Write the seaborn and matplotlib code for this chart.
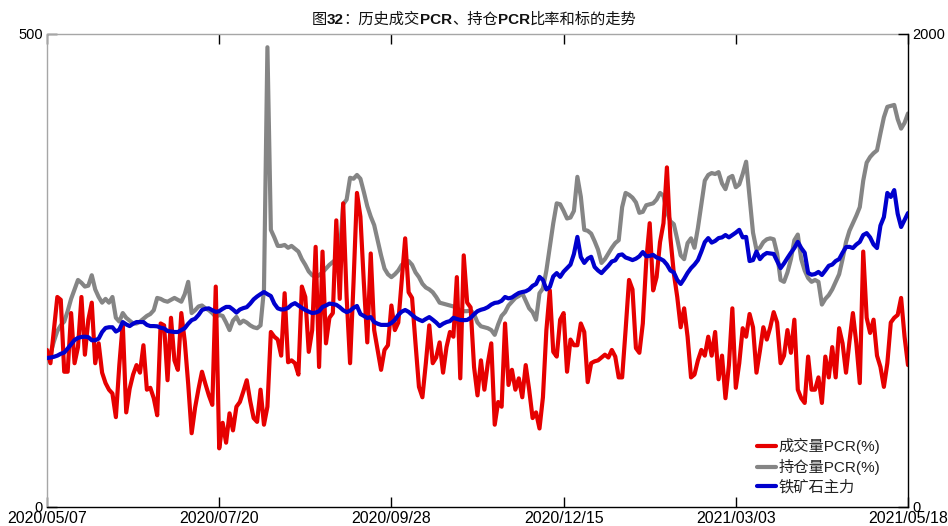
import numpy as np
import pandas as pd
import matplotlib
matplotlib.use("Agg")
import matplotlib.pyplot as plt
import seaborn as sns

# ---------------- data ----------------
tick_labels = ["2020/05/07", "2020/07/20", "2020/09/28", "2020/12/15", "2021/03/03", "2021/05/18"]
tick_pos = [0, 50, 100, 150, 200, 250]

series_names = ["成交量PCR(%)", "持仓量PCR(%)", "铁矿石主力"]

volume_pcr = [
    166, 152, 187, 222, 219, 143, 143, 205, 152, 169,
    222, 161, 198, 216, 152, 173, 142, 131, 124, 120,
    95, 150, 194, 100, 125, 140, 150, 142, 171, 124,
    126, 115, 97, 194, 192, 134, 200, 155, 145, 205,
    175, 130, 78, 105, 125, 143, 130, 118, 108, 233,
    62, 89, 68, 99, 81, 106, 111, 122, 134, 112,
    94, 90, 124, 87, 106, 185, 180, 177, 160, 226,
    153, 155, 152, 140, 233, 222, 164, 187, 275, 148,
    270, 173, 200, 205, 303, 220, 321, 222, 152, 237,
    332, 307, 237, 174, 268, 187, 166, 145, 166, 171,
    213, 187, 195, 240, 284, 227, 221, 173, 127, 116,
    152, 192, 152, 158, 174, 142, 169, 185, 180, 243,
    136, 266, 216, 211, 148, 118, 155, 124, 152, 173,
    87, 111, 106, 194, 129, 145, 124, 136, 116, 150,
    124, 94, 100, 83, 116, 187, 229, 164, 159, 198,
    205, 143, 177, 171, 171, 194, 185, 132, 152, 154,
    155, 158, 161, 158, 166, 159, 137, 137, 187, 240,
    230, 168, 163, 194, 260, 300, 229, 243, 280, 300,
    359, 285, 247, 222, 190, 210, 180, 137, 140, 155,
    166, 160, 180, 160, 185, 135, 160, 115, 150, 210,
    126, 152, 189, 180, 204, 190, 142, 165, 190, 177,
    190, 206, 195, 152, 160, 187, 163, 198, 124, 115,
    110, 159, 124, 124, 137, 110, 159, 137, 169, 137,
    189, 173, 142, 175, 205, 173, 131, 270, 200, 184,
    198, 160, 148, 127, 152, 195, 200, 203, 221, 180,
    150,
]

oi_pcr = [
    154, 162, 175, 186, 192, 196, 207, 220, 230, 240,
    237, 233, 234, 245, 230, 222, 216, 220, 216, 222,
    200, 196, 205, 200, 197, 194, 194, 196, 199, 202,
    204, 208, 221, 220, 218, 217, 219, 221, 219, 217,
    225, 238, 205, 208, 212, 213, 210, 208, 205, 201,
    203, 202, 195, 187, 197, 201, 194, 197, 195, 192,
    190, 189, 192, 230, 486, 293, 285, 276, 276, 277,
    274, 276, 273, 270, 262, 256, 249, 245, 243, 245,
    248, 252, 256, 259, 262, 268, 320, 325, 348, 347,
    351, 347, 333, 318, 307, 298, 282, 266, 252, 246,
    243, 246, 250, 256, 258, 260, 256, 248, 243, 236,
    232, 230, 227, 222, 216, 215, 214, 213, 212, 210,
    208, 207, 207, 208, 204, 195, 191, 190, 189, 187,
    182, 193, 202, 206, 213, 217, 221, 223, 226, 218,
    210, 206, 198, 226, 231, 250, 275, 300, 321, 320,
    313, 305, 306, 313, 349, 328, 293, 292, 289, 281,
    272, 258, 262, 268, 274, 279, 282, 317, 332, 330,
    327, 322, 311, 312, 319, 320, 321, 325, 332, 329,
    312, 302, 299, 283, 266, 262, 279, 284, 274, 295,
    320, 345, 351, 353, 352, 354, 342, 336, 348, 350,
    338, 341, 352, 365, 328, 290, 272, 274, 280, 283,
    284, 283, 268, 240, 238, 248, 262, 282, 288, 262,
    250, 242, 238, 240, 238, 214, 220, 224, 230, 238,
    246, 262, 280, 292, 300, 308, 317, 345, 364, 370,
    374, 377, 395, 412, 423, 424, 425, 410, 400, 406,
    416,
]

iron_ore = [
    630, 632, 635, 640, 648, 653, 670, 688, 706, 715,
    719, 720, 718, 705, 705, 712, 740, 757, 760, 760,
    742, 750, 782, 772, 765, 775, 782, 782, 782, 770,
    765, 765, 764, 758, 755, 744, 742, 740, 740, 748,
    756, 775, 790, 796, 812, 833, 838, 840, 832, 825,
    828, 838, 846, 846, 835, 822, 835, 841, 845, 860,
    878, 890, 900, 909, 900, 892, 860, 840, 835, 836,
    842, 855, 862, 852, 842, 833, 826, 820, 822, 828,
    846, 852, 860, 858, 855, 845, 832, 824, 830, 842,
    850, 816, 808, 799, 803, 782, 775, 770, 770, 770,
    778, 791, 812, 826, 833, 825, 812, 800, 792, 786,
    795, 803, 792, 780, 765, 775, 782, 786, 800, 795,
    791, 790, 791, 800, 815, 828, 834, 838, 845, 856,
    863, 865, 872, 888, 882, 886, 896, 905, 909, 912,
    920, 935, 943, 973, 960, 920, 930, 975, 989, 973,
    995, 1010, 1025, 1070, 1142, 1057, 1032, 1050, 1058, 1015,
    1000, 989, 1005, 1020, 1038, 1043, 1065, 1068, 1055, 1050,
    1044, 1050, 1060, 1078, 1060, 1062, 1066, 1055, 1050, 1042,
    1025, 1000, 992, 960, 943, 965, 990, 1010, 1025, 1044,
    1080, 1120, 1137, 1118, 1125, 1137, 1140, 1150, 1140, 1150,
    1160, 1172, 1140, 1142, 1040, 1044, 1080, 1048, 1065, 1074,
    1072, 1070, 1040, 1010, 1030, 1053, 1075, 1095, 1121, 1095,
    1075, 990, 982, 985, 994, 981, 1000, 1020, 1025, 1040,
    1048, 1075, 1099, 1100, 1095, 1110, 1121, 1150, 1158, 1140,
    1110, 1095, 1190, 1226, 1328, 1311, 1340, 1240, 1184, 1213,
    1243,
]

left_ticks = [0, 500]
right_ticks = [0, 2000]

# ---------------- style ----------------
sns.set_style("white")
FAM = ["Liberation Sans", "Noto Sans CJK SC", "DejaVu Sans"]
plt.rcParams["font.family"] = FAM
plt.rcParams["axes.unicode_minus"] = False

RED = "#E60000"
GRAY = "#858585"
BLUE = "#0000CD"

df = pd.DataFrame({
    "idx": np.arange(len(volume_pcr)),
    "vol": volume_pcr,
    "oi": oi_pcr,
    "ore": iron_ore,
})

fig = plt.figure(figsize=(9.48, 5.26), dpi=100)
W, H = 948, 526
ax = fig.add_axes([47 / W, 1 - 507 / H, 861 / W, 473 / H])
ax2 = ax.twinx()

sns.lineplot(data=df, x="idx", y="vol", ax=ax, color=RED, linewidth=3,
             label=series_names[0], legend=False, zorder=3)
sns.lineplot(data=df, x="idx", y="oi", ax=ax, color=GRAY, linewidth=3,
             label=series_names[1], legend=False, zorder=2)
sns.lineplot(data=df, x="idx", y="ore", ax=ax2, color=BLUE, linewidth=3,
             label=series_names[2], legend=False, zorder=3)

ax.set_xlim(0, 250)
ax.set_ylim(0, 500)
ax2.set_ylim(0, 2000)
ax.set_xlabel("")
ax.set_ylabel("")
ax2.set_ylabel("")

ax.set_xticks(tick_pos)
ax.set_xticklabels(tick_labels)
ax.set_yticks(left_ticks)
ax.set_yticklabels([str(v) for v in left_ticks])
ax2.set_yticks(right_ticks)
ax2.set_yticklabels([str(v) for v in right_ticks])

ax.tick_params(axis="x", direction="in", length=7, width=1, top=True, bottom=True,
               labelsize=11.5, pad=3, colors="black")
ax.tick_params(axis="y", direction="in", length=7, width=1, labelsize=10.5, pad=3,
               colors="black")
ax2.tick_params(axis="y", direction="in", length=7, width=1, labelsize=10.5, pad=3,
                colors="black")

for s in ["left", "top"]:
    ax.spines[s].set_color("#a6a6a6")
    ax.spines[s].set_linewidth(1)
ax.spines["bottom"].set_color("black")
ax.spines["bottom"].set_linewidth(1)
ax.spines["right"].set_visible(False)
for s in ["left", "top", "bottom"]:
    ax2.spines[s].set_visible(False)
ax2.spines["right"].set_color("black")
ax2.spines["right"].set_linewidth(1)

# legend
handles = ax.get_lines()[:2] + ax2.get_lines()[:1]
leg = ax2.legend(handles, series_names, loc="upper left",
                 bbox_to_anchor=(757 / W, 1 - 438 / H), bbox_transform=fig.transFigure,
                 frameon=False, fontsize=11, handlelength=1.25, handletextpad=0.15,
                 labelspacing=0.33, borderpad=0, borderaxespad=0)
for t in leg.get_texts():
    t.set_color("#222222")

# title with mixed bold parts
pieces = [("图", "normal"), ("32", "bold"), ("：历史成交", "normal"), ("PCR", "bold"),
          ("、持仓", "normal"), ("PCR", "bold"), ("比率和标的走势", "normal")]
renderer = fig.canvas.get_renderer()
texts = []
widths = []
for s, w in pieces:
    t = fig.text(0, 1 - 20 / H, s, fontsize=11, fontweight=w, ha="left", va="center",
                 family=FAM, color="#111111")
    bb = t.get_window_extent(renderer)
    texts.append(t)
    widths.append(bb.width)
total = sum(widths)
x = 474 - total / 2
for t, w in zip(texts, widths):
    t.set_x(x / W)
    x += w

fig.savefig("out.png", dpi=100)
